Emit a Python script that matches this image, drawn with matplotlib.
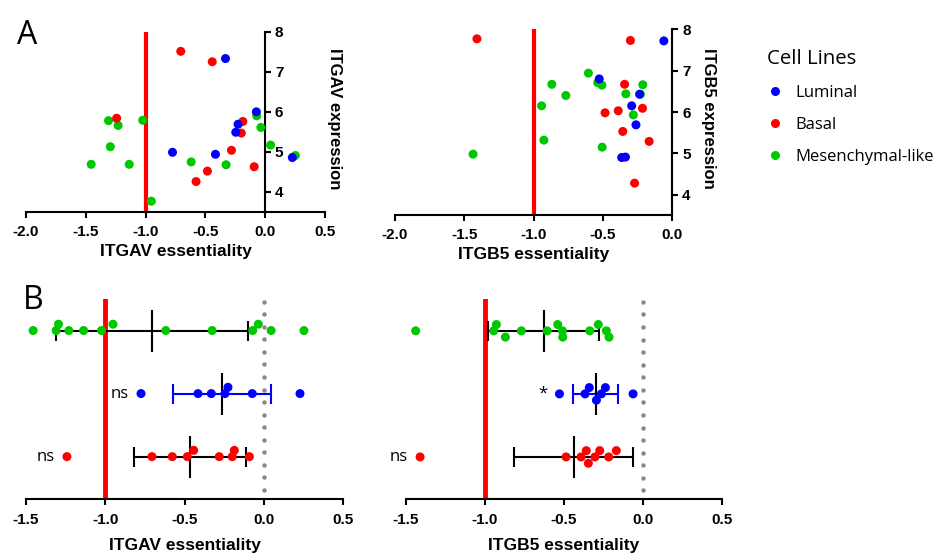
import matplotlib.pyplot as plt
from matplotlib.lines import Line2D
import numpy as np

plt.rcParams['axes.unicode_minus'] = False
plt.rcParams['font.family'] = ['Liberation Sans', 'DejaVu Sans']

# essentiality / expression per cell line group
itgav_lum = [-0.775, -0.416, -0.332, -0.246, -0.227, -0.074, 0.227]
itgav_lum_expr = [4.99, 4.94, 7.33, 5.49, 5.69, 6.00, 4.86]
itgav_bas = [-1.242, -0.706, -0.578, -0.483, -0.443, -0.282, -0.200, -0.187, -0.092]
itgav_bas_expr = [5.84, 7.51, 4.26, 4.52, 7.25, 5.04, 5.47, 5.76, 4.63]
itgav_mes = [-1.455, -1.31, -1.295, -1.23, -1.137, -1.024, -0.952, -0.619, -0.327, -0.071, -0.036, 0.045, 0.252]
itgav_mes_expr = [4.69, 5.78, 5.13, 5.66, 4.69, 5.79, 3.77, 4.75, 4.68, 5.90, 5.61, 5.17, 4.91]

itgb5_lum = [-0.527, -0.365, -0.338, -0.293, -0.262, -0.236, -0.061]
itgb5_lum_expr = [6.80, 4.90, 4.91, 6.15, 5.69, 6.43, 7.72]
itgb5_bas = [-1.409, -0.485, -0.390, -0.357, -0.344, -0.302, -0.272, -0.215, -0.167]
itgb5_bas_expr = [7.77, 5.98, 6.03, 5.53, 6.67, 7.73, 4.28, 6.09, 5.29]
itgb5_mes = [-1.437, -0.943, -0.926, -0.869, -0.768, -0.605, -0.538, -0.508, -0.506, -0.335, -0.281, -0.230, -0.213]
itgb5_mes_expr = [4.98, 6.15, 5.32, 6.67, 6.40, 6.94, 6.71, 6.65, 5.15, 6.44, 5.93, 6.43, 6.66]

# significance vs mesenchymal-like (luminal, basal)
itgav_sig = ['ns', 'ns']
itgb5_sig = ['*', 'ns']

names = ['Luminal', 'Basal', 'Mesenchymal-like']
colors = ['#0000FF', '#FF0000', '#00C800']

W, H = 937, 556
fig = plt.figure(figsize=(W / 100, H / 100), dpi=100)


def px_axes(l, t, r, b):
    return fig.add_axes([l / W, 1 - b / H, (r - l) / W, (b - t) / H])


def style_x(ax, ticks, label, pad, tpad):
    ax.set_xticks(ticks)
    ax.set_xticklabels(['%.1f' % t for t in ticks], fontweight='bold', fontsize=11)
    ax.tick_params(axis='x', direction='out', length=4, width=1.5, pad=tpad)
    ax.set_xlabel(label, fontweight='bold', fontsize=12.5, labelpad=pad)
    ax.spines['bottom'].set_linewidth(1.5)
    ax.spines['top'].set_visible(False)


def top_panel(ax, data, xlim, ticks, xlabel, ylabel, ylab_x):
    ax.axvline(-1, color='#FF0000', lw=3, zorder=1)
    for i in [2, 1, 0]:
        ess, expr = data[i]
        ax.scatter(ess, expr, s=42, color=colors[i], edgecolors='none', zorder=3)
    ax.set_xlim(xlim)
    ax.set_ylim(3.5, 8)
    style_x(ax, ticks, xlabel, 4, 5)
    ax.spines['left'].set_visible(False)
    ax.spines['right'].set_position(('data', 0))
    ax.spines['right'].set_linewidth(1.5)
    ax.yaxis.set_ticks_position('right')
    ax.set_yticks([4, 5, 6, 7, 8])
    ax.set_yticklabels(['4', '5', '6', '7', '8'], fontweight='bold', fontsize=11)
    ax.tick_params(axis='y', direction='out', length=4, width=1.5, pad=3)
    ax.set_ylabel(ylabel, fontweight='bold', fontsize=12, rotation=270, va='center', ha='center')
    ax.yaxis.set_label_position('right')
    ax.yaxis.label.set_verticalalignment('center')
    ax.yaxis.set_label_coords(ylab_x, 0.52)


def swarm_lanes(vals, width):
    vals = np.asarray(vals)
    lanes = np.zeros(len(vals))
    placed = []
    for i in np.argsort(vals):
        for lane in [0, 1, -1, 2, -2, 3, -3]:
            if all(not (l == lane and abs(vals[i] - v) < width) for v, l in placed):
                break
        lanes[i] = lane
        placed.append((vals[i], lane))
    return lanes


def bottom_panel(ax, data, sigs, xlabel):
    ax.axvline(-1, color='#FF0000', lw=3.5, zorder=1)
    # dotted zero line
    dots = np.linspace(0.47, 3.46, 16)
    ax.plot(np.zeros_like(dots), dots, ls='none', marker='o', markersize=3.2,
            markeredgewidth=0, color='#888888', zorder=1)
    rows = [2, 1, 3]
    for i in range(3):
        vals = np.asarray(data[i])
        y = rows[i]
        lanes = swarm_lanes(vals, 0.08)
        ax.scatter(vals, y + 0.1 * lanes, s=42, color=colors[i], edgecolors='none', zorder=3)
        m = vals.mean()
        sd = vals.std(ddof=1)
        barcol = colors[0] if i == 0 else 'black'
        ax.errorbar(m, y, xerr=sd, fmt='none', ecolor=barcol, elinewidth=1.5,
                    capsize=7.5, capthick=1.5, zorder=2)
        ax.plot(m, y, marker='|', markersize=30, mew=1.5, color='black', zorder=2)
        if i < 2:
            ax.text(vals.min() - 0.075, y, sigs[i], ha='right', va='center',
                    fontsize=12, family='Open Sans')
    ax.set_xlim(-1.5, 0.5)
    ax.set_ylim(0.333, 3.5)
    ax.set_yticks([])
    ax.spines['left'].set_visible(False)
    ax.spines['right'].set_visible(False)
    style_x(ax, [-1.5, -1.0, -0.5, 0.0, 0.5], xlabel, 8, 6)


axA1 = px_axes(26, 31.7, 325, 212)
axA2 = px_axes(395, 29.3, 672.3, 215.4)
axB1 = px_axes(26, 299, 343.3, 498.7)
axB2 = px_axes(405.7, 299.3, 721.7, 499)

top_panel(axA1, [(itgav_lum, itgav_lum_expr), (itgav_bas, itgav_bas_expr), (itgav_mes, itgav_mes_expr)],
          (-2, 0.5), [-2.0, -1.5, -1.0, -0.5, 0.0, 0.5], 'ITGAV essentiality', 'ITGAV expression', 1.033)
top_panel(axA2, [(itgb5_lum, itgb5_lum_expr), (itgb5_bas, itgb5_bas_expr), (itgb5_mes, itgb5_mes_expr)],
          (-2, 0), [-2.0, -1.5, -1.0, -0.5, 0.0], 'ITGB5 essentiality', 'ITGB5 expression', 1.129)

bottom_panel(axB1, [itgav_lum, itgav_bas, itgav_mes], itgav_sig, 'ITGAV essentiality')
bottom_panel(axB2, [itgb5_lum, itgb5_bas, itgb5_mes], itgb5_sig, 'ITGB5 essentiality')

fig.text(17 / W, 1 - 44 / H, 'A', fontsize=23, family='Open Sans', va='baseline')
fig.text(23 / W, 1 - 309 / H, 'B', fontsize=23, family='Open Sans', va='baseline')

handles = [Line2D([], [], ls='none', marker='o', markersize=6.5, color=c, markeredgewidth=0)
           for c in colors]
leg = fig.legend(handles, names, title='Cell Lines', loc='upper left',
                 bbox_to_anchor=(760 / W, 1 - 42 / H), frameon=False,
                 prop={'family': 'Open Sans', 'size': 12},
                 title_fontproperties={'family': 'Open Sans', 'size': 14.7},
                 alignment='left', handlelength=1.0, handletextpad=0.75,
                 labelspacing=0.96, borderpad=0.4, borderaxespad=0)

fig.savefig('out.png', dpi=100)
